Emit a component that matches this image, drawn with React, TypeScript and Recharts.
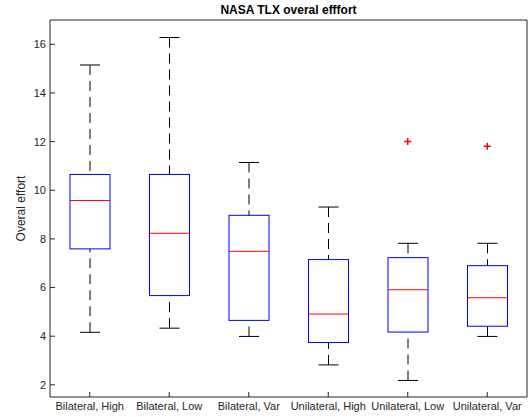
import { ComposedChart, Bar, Scatter, XAxis, YAxis } from "recharts";

const categories = [
  "Bilateral, High",
  "Bilateral, Low",
  "Bilateral, Var",
  "Unilateral, High",
  "Unilateral, Low",
  "Unilateral, Var",
];
const lowerWhisker = [4.16, 4.33, 3.99, 2.82, 2.18, 3.99];
const q1 = [7.59, 5.67, 4.65, 3.74, 4.17, 4.41];
const medians = [9.58, 8.23, 7.49, 4.91, 5.91, 5.58];
const q3 = [10.65, 10.65, 8.97, 7.15, 7.23, 6.9];
const upperWhisker = [15.15, 16.28, 11.14, 9.31, 7.82, 7.82];
const outliers: (number | null)[] = [null, null, null, null, 12.0, 11.81];
const yTicks = [2, 4, 6, 8, 10, 12, 14, 16];

const data = categories.map((name, i) => ({
  name,
  range: [lowerWhisker[i], upperWhisker[i]],
  q1: q1[i],
  median: medians[i],
  q3: q3[i],
  outlier: outliers[i],
}));

const FONT = '"Liberation Sans", Arial, Helvetica, sans-serif';
const AXIS = "#262626";

// one bar spans min..max; the rest of the box is placed inside it
function BoxShape(props: any) {
  const { x, y, width, height, payload } = props;
  const [lo, hi] = payload.range;
  const toY = (v: number) => y + (height * (hi - v)) / (hi - lo);
  const cx = x + width / 2;
  const cap = width / 4;
  const top = toY(payload.q3);
  const bottom = toY(payload.q1);
  const med = toY(payload.median);
  return (
    <g>
      <line x1={cx} x2={cx} y1={toY(hi)} y2={top} stroke="#000" strokeDasharray="10 6" />
      <line x1={cx} x2={cx} y1={toY(lo)} y2={bottom} stroke="#000" strokeDasharray="10 6" />
      <line x1={cx - cap} x2={cx + cap} y1={toY(hi)} y2={toY(hi)} stroke="#000" />
      <line x1={cx - cap} x2={cx + cap} y1={toY(lo)} y2={toY(lo)} stroke="#000" />
      <rect x={x} y={top} width={width} height={bottom - top} fill="none" stroke="#0000ff" />
      <line x1={x} x2={x + width} y1={med} y2={med} stroke="#ff0000" />
    </g>
  );
}

function PlusShape(props: any) {
  const { cx, cy, payload } = props;
  if (payload.outlier == null || !isFinite(cy)) return <g />;
  return (
    <g stroke="#ff0000" strokeWidth={1.5}>
      <line x1={cx - 3.5} x2={cx + 3.5} y1={cy} y2={cy} />
      <line x1={cx} x2={cx} y1={cy - 3.5} y2={cy + 3.5} />
    </g>
  );
}

const Nothing = () => <g />;

export default function App() {
  return (
    <div style={{ position: "absolute", left: 0, top: 0, width: 532, height: 417, background: "#fff" }}>
      <ComposedChart
        width={532}
        height={417}
        data={data}
        margin={{ top: 19, right: 4, bottom: 0, left: 0 }}
        style={{ fontFamily: FONT }}
      >
        <XAxis
          dataKey="name"
          height={20}
          tickSize={-5}
          tickMargin={10}
          stroke={AXIS}
          tick={{ fill: AXIS, fontSize: 11 }}
          interval={0}
        />
        <XAxis
          xAxisId="top"
          dataKey="name"
          orientation="top"
          height={1}
          tickSize={-5}
          tick={false}
          stroke={AXIS}
          label={{
            content: (p: any) => (
              <text
                x={p.viewBox.x + p.viewBox.width / 2}
                y={p.viewBox.y - 5}
                textAnchor="middle"
                fontSize={12}
                fontWeight="bold"
                fill="#000"
              >
                NASA TLX overal efffort
              </text>
            ),
          }}
        />
        <YAxis
          width={50}
          domain={[1.5, 17]}
          ticks={yTicks}
          allowDataOverflow
          tickSize={-5}
          tickMargin={9}
          stroke={AXIS}
          tick={{ fill: AXIS, fontSize: 11 }}
          label={{
            content: (p: any) => {
              const cy = p.viewBox.y + p.viewBox.height / 2;
              return (
                <text
                  x={21}
                  y={cy}
                  transform={`rotate(-90 21 ${cy})`}
                  textAnchor="middle"
                  dominantBaseline="central"
                  fontSize={12}
                  fill={AXIS}
                >
                  Overal effort
                </text>
              );
            },
          }}
        />
        <YAxis
          yAxisId="right"
          orientation="right"
          width={1}
          domain={[1.5, 17]}
          ticks={yTicks}
          allowDataOverflow
          tickSize={-5}
          tick={false}
          stroke={AXIS}
        />
        <Bar dataKey="range" barSize={40} shape={BoxShape} isAnimationActive={false} />
        <Scatter dataKey="outlier" shape={PlusShape} isAnimationActive={false} />
        <Scatter
          xAxisId="top"
          yAxisId="right"
          dataKey="median"
          shape={Nothing}
          legendType="none"
          isAnimationActive={false}
        />
      </ComposedChart>
    </div>
  );
}
